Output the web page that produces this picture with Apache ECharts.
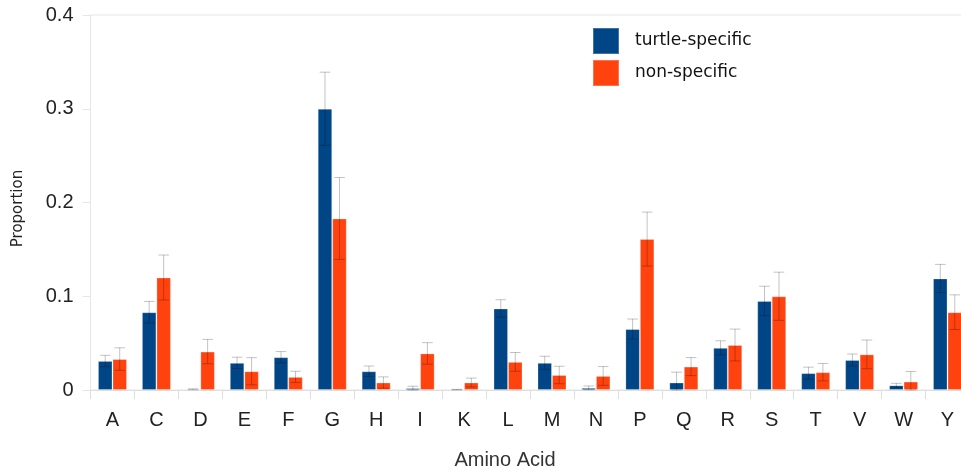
<!DOCTYPE html>
<html>
<head>
<meta charset="utf-8">
<script src="https://cdn.jsdelivr.net/npm/echarts@6/dist/echarts.min.js"></script>
<style>
html,body{margin:0;padding:0;background:#fff;}
#chart{width:961px;height:470px;}
</style>
</head>
<body>
<div id="chart"></div>
<script>
var categories = ['A','C','D','E','F','G','H','I','K','L','M','N','P','Q','R','S','T','V','W','Y'];
var turtleValues = [0.031,0.083,0.0008,0.029,0.035,0.300,0.020,0.002,0.0004,0.087,0.029,0.0023,0.065,0.008,0.045,0.095,0.018,0.032,0.005,0.119];
var nonValues = [0.033,0.120,0.041,0.020,0.014,0.183,0.008,0.039,0.008,0.030,0.016,0.015,0.161,0.025,0.048,0.100,0.019,0.038,0.009,0.083];
var turtleErr = [0.006,0.0115,0.0005,0.006,0.006,0.039,0.0056,0.002,0.0003,0.0093,0.007,0.002,0.0107,0.011,0.0075,0.0157,0.0064,0.0064,0.0021,0.015];
var nonErr = [0.012,0.024,0.013,0.0145,0.006,0.0437,0.006,0.0115,0.0047,0.010,0.0093,0.010,0.0288,0.0096,0.017,0.0257,0.0093,0.0153,0.0107,0.0185];
var yTicks = [0, 0.1, 0.2, 0.3, 0.4];

var BLUE = '#004586', ORANGE = '#ff420e';
var BAR_RATIO = 0.33;

function errData(vals, errs){
  return vals.map(function(v,i){ return [i, v, errs[i]]; });
}
function errRenderer(side){
  return function(params, api){
    var idx = api.value(0), v = api.value(1), e = api.value(2);
    var band = api.size([1,0])[0];
    var bw = band * BAR_RATIO;
    var c = api.coord([idx, v]);
    var x = c[0] + side * bw / 2;
    var yTop = api.coord([idx, v + e])[1];
    var yBot = api.coord([idx, Math.max(v - e, 0)])[1];
    var cap = 5.3;
    var st = {stroke:'rgba(0,0,0,0.24)', lineWidth:1};
    return {type:'group', children:[
      {type:'line', shape:{x1:x,y1:yTop,x2:x,y2:yBot}, style:st},
      {type:'line', shape:{x1:x-cap,y1:yTop,x2:x+cap,y2:yTop}, style:st},
      {type:'line', shape:{x1:x-cap,y1:yBot,x2:x+cap,y2:yBot}, style:st}
    ]};
  };
}

var chart = echarts.init(document.getElementById('chart'), null, {renderer:'canvas'});
chart.setOption({
  animation:false,
  backgroundColor:'#ffffff',
  grid:{left:90.5, width:879, top:15, height:375, containLabel:false, outerBoundsMode:'none',
        show:true, borderColor:'#e6e6e6', borderWidth:1, backgroundColor:'transparent'},
  legend:{
    orient:'vertical', left:592, top:27, itemWidth:26, itemHeight:26, itemGap:4, padding:0,
    icon:'rect',
    data:['turtle-specific','non-specific'],
    textStyle:{fontFamily:'DejaVu Sans', fontSize:17, color:'#111', padding:[0,0,0,11]},
    selectedMode:false
  },
  xAxis:{
    type:'category', data:categories,
    axisLine:{show:true, lineStyle:{color:'#dedede'}},
    axisTick:{show:true, length:9, lineStyle:{color:'#dedede'}},
    axisLabel:{fontFamily:'Liberation Sans', fontSize:20, color:'#222', margin:20},
    name:'Amino Acid', nameLocation:'middle', nameGap:60,
    nameTextStyle:{fontFamily:'Liberation Sans', fontSize:20, color:'#333', padding:[0,50,0,0]}
  },
  yAxis:{
    type:'value', min:yTicks[0], max:yTicks[yTicks.length-1], interval:0.1,
    axisLine:{show:true, lineStyle:{color:'#e6e6e6'}},
    axisTick:{show:true, length:8, lineStyle:{color:'#e6e6e6'}},
    splitLine:{show:false},
    axisLabel:{fontFamily:'Liberation Sans', fontSize:20, color:'#222', margin:17},
    name:'Proportion', nameLocation:'middle', nameGap:65,
    nameTextStyle:{fontFamily:'DejaVu Sans', fontSize:15, color:'#222', padding:[0,12,0,0]}
  },
  series:[
    {name:'turtle-specific', type:'bar', data:turtleValues, barWidth:(BAR_RATIO*100)+'%', barGap:'0%',
     itemStyle:{color:BLUE, borderColor:'rgba(255,255,255,0.25)', borderWidth:1}},
    {name:'non-specific', type:'bar', data:nonValues, barWidth:(BAR_RATIO*100)+'%', barGap:'0%',
     itemStyle:{color:ORANGE, borderColor:'rgba(255,255,255,0.25)', borderWidth:1}},
    {type:'custom', data:errData(turtleValues, turtleErr), renderItem:errRenderer(-1), z:5, silent:true},
    {type:'custom', data:errData(nonValues, nonErr), renderItem:errRenderer(1), z:5, silent:true}
  ]
});
</script>
</body>
</html>
